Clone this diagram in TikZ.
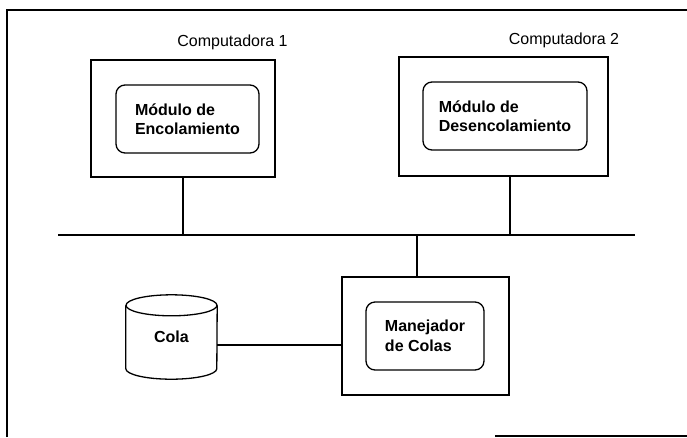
\documentclass[tikz,border=0pt]{standalone}
\usepackage{fontspec}
\setmainfont{Liberation Sans}
\begin{document}
\begin{tikzpicture}[x=1pt,y=-1pt,
  line/.style={line width=1.3pt,black},
  hostbox/.style={draw,line width=1.3pt,inner sep=0pt},
  modbox/.style={draw,line width=1.3pt,rounded corners=9pt,inner sep=0pt,
    align=left,font=\fontsize{16}{19.5}\selectfont\bfseries},
  caption/.style={inner sep=0pt,font=\fontsize{16}{19}\selectfont}]
\useasboundingbox (0,0) rectangle (687,437);

% outer frame (only partly drawn)
\coordinate (fTL) at (7,10);
\coordinate (fTR) at (687,10);
\coordinate (fBL) at (7,437);
\coordinate (fB1) at (495,436);
\coordinate (fB2) at (687,436);
\draw[line] (fBL) -- (fTL) -- (fTR);
\draw[line] (fB1) -- (fB2);

% computer 1
\node[hostbox,minimum width=184pt,minimum height=117pt] (c1) at (183,118.5) {};
\node[modbox,minimum width=143pt,minimum height=68pt] (m1) at (187.5,119) {Módulo de\\Encolamiento};
\node[caption] (l1) at (232.5,42) {Computadora 1};

% computer 2
\node[hostbox,minimum width=209pt,minimum height=119pt] (c2) at (503.5,116.5) {};
\node[modbox,minimum width=164pt,minimum height=68pt] (m2) at (505,116) {Módulo de\\Desencolamiento};
\node[caption] (l2) at (564,40) {Computadora 2};

% queue manager
\node[hostbox,minimum width=167pt,minimum height=118pt] (mgr) at (425.5,336) {};
\node[modbox,minimum width=118pt,minimum height=68pt] (mgrin) at (425,336) {Manejador\\de Colas};

% queue store (cylinder)
\node[minimum width=91pt,minimum height=84pt,inner sep=0pt,
      font=\fontsize{16}{19}\selectfont\bfseries] (cola) at (171.5,337) {Cola};
\draw[line] ([yshift=-10.5pt]cola.north west) -- ([yshift=10.5pt]cola.south west)
  arc[start angle=180,end angle=360,x radius=45.5pt,y radius=10.5pt]
  -- ([yshift=-10.5pt]cola.north east);
\draw[line] ([yshift=-10.5pt]cola.north) ellipse[x radius=45.5pt,y radius=10.5pt];

% network bus
\coordinate (busL) at (58,235);
\coordinate (busR) at (635,235);
\draw[line] (busL) -- (busR);

% connections
\draw[line] (c1.south) -- (c1.south |- busL);
\draw[line] ([xshift=6.5pt]c2.south) -- ([xshift=6.5pt]c2.south |- busL);
\draw[line] ([xshift=-8.5pt]mgr.north) -- ([xshift=-8.5pt]mgr.north |- busL);
\draw[line] ([yshift=-8pt]cola.east) -- ([yshift=-8pt]cola.east -| mgr.west);
\end{tikzpicture}
\end{document}
